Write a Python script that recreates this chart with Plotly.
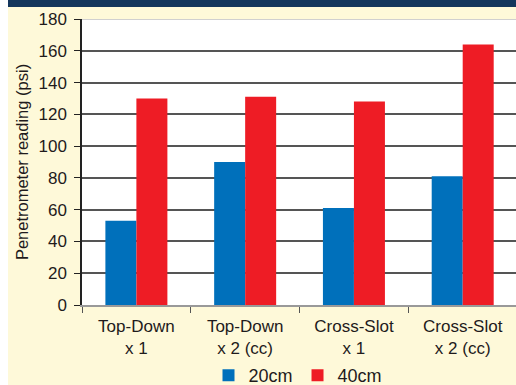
import plotly.graph_objects as go

categories = ["Top-Down<br>x 1", "Top-Down<br>x 2 (cc)", "Cross-Slot<br>x 1", "Cross-Slot<br>x 2 (cc)"]
series_names = ["20cm", "40cm"]
values_20cm = [53, 90, 61, 81]
values_40cm = [130, 131, 128, 164]
y_ticks = [0, 20, 40, 60, 80, 100, 120, 140, 160, 180]

W, H = 516, 385
L, R, T, B = 82, 0, 19, 80
pw = W - L - R
ph = H - T - B

def px2x(px):
    return (px - L) / pw

def py2y(py):
    return (H - B - py) / ph

text_color = "#1f1b1c"
font = "Liberation Sans, Arial, Helvetica, sans-serif"

fig = go.Figure()
fig.add_trace(go.Bar(x=categories, y=values_20cm, name=series_names[0], marker=dict(color="#0070bb", line=dict(width=0))))
fig.add_trace(go.Bar(x=categories, y=values_40cm, name=series_names[1], marker=dict(color="#ee1c25", line=dict(width=0))))

shapes = [
    dict(type="rect", xref="paper", yref="paper", x0=px2x(0), x1=px2x(W + 5), y0=py2y(7), y1=py2y(-2),
         fillcolor="#14365c", line=dict(width=0), layer="below"),
    dict(type="rect", xref="paper", yref="paper", x0=px2x(-2), x1=px2x(8), y0=py2y(H + 2), y1=py2y(-2),
         fillcolor="white", line=dict(width=0), layer="below"),
    dict(type="line", xref="paper", yref="y", x0=0, x1=1, y0=180, y1=180,
         line=dict(color="#d0d0d0", width=2), layer="above"),
]

fig.update_layout(
    width=W, height=H,
    margin=dict(l=L, r=R, t=T, b=B, pad=0, autoexpand=False),
    paper_bgcolor="#fef9d9",
    plot_bgcolor="white",
    barmode="group",
    bargap=0.43,
    bargroupgap=0,
    font=dict(family=font, color=text_color, size=17),
    shapes=shapes,
    showlegend=True,
    legend=dict(orientation="h", x=px2x(298), xanchor="center", y=py2y(375.5), yanchor="middle",
                font=dict(size=18, color=text_color), bgcolor="rgba(0,0,0,0)", itemwidth=30,
                traceorder="normal"),
    xaxis=dict(
        type="category",
        range=[-0.5, 3.49],
        tickson="boundaries",
        ticks="outside", ticklen=6, tickwidth=1, tickcolor="#555",
        showline=True, linecolor="#999", linewidth=1.5,
        showgrid=False,
        automargin=False,
        tickfont=dict(size=17, color=text_color),
        ticklabelstandoff=5,
    ),
    yaxis=dict(
        range=[0, 180],
        tickvals=y_ticks,
        ticks="outside", ticklen=6, tickwidth=1, tickcolor="#222",
        showline=True, linecolor="#222", linewidth=1.5,
        showgrid=True, gridcolor="#555", gridwidth=1.5,
        zeroline=False,
        automargin=False,
        tickfont=dict(size=17, color=text_color),
        ticklabelstandoff=4,
        title=dict(text="Penetrometer reading (psi)", font=dict(size=16.5, color=text_color), standoff=6),
    ),
)

fig.write_html("out.html")
